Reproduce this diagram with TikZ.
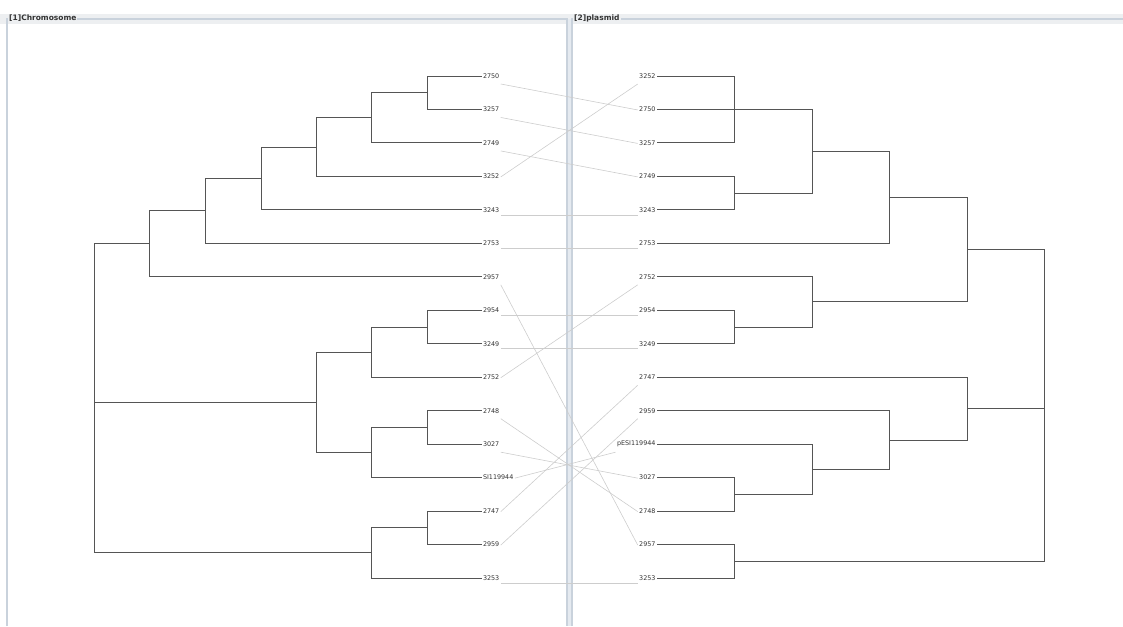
\documentclass[tikz,border=0pt]{standalone}
\usepackage{fontspec}
\setmainfont{DejaVu Sans}

\definecolor{treeline}{HTML}{555555}
\definecolor{linkline}{HTML}{CDCDCD}
\definecolor{labeltext}{HTML}{333333}
\definecolor{framecol}{HTML}{C9D2DC}
\definecolor{gapcol}{HTML}{E5EAF0}
\definecolor{headcol}{HTML}{EDEFF1}

\begin{document}
\begin{tikzpicture}[
    x=1pt, y=-1pt,
    leafl/.style={
        anchor=west,
        inner sep=0.5pt,
        outer sep=1pt,
        text=labeltext,
        font=\fontsize{6.4}{7}\selectfont
    },
    leafr/.style={leafl, anchor=east},
    treebranch/.style={draw=treeline, line width=0.9pt},
    crosslink/.style={draw=linkline, line width=0.6pt},
    panelframe/.style={draw=framecol, line width=1.2pt},
    paneltitle/.style={
        anchor=west,
        fill=headcol,
        inner sep=1pt,
        text=labeltext,
        font=\bfseries\fontsize{7.5}{8}\selectfont
    }
]
\useasboundingbox (0,0) rectangle (1123,626);

% Panels
\fill[headcol] (0,14) rectangle (1123,24);
\fill[gapcol] (567,19) rectangle (572,626);
\draw[panelframe] (7,626) -- (7,19) -- (567,19) -- (567,626);
\draw[panelframe] (572,626) -- (572,19) -- (1123,19);
\node[paneltitle] (chrom) at (8,18.5) {[1]Chromosome};
\node[paneltitle] (plas) at (573,18.5) {[2]plasmid};

% Leaves, chromosome tree
\foreach \name/\txt [count=\i from 0] in {2750/2750, 3257/3257, 2749/2749, 3252/3252, 3243/3243, 2753/2753, 2957/2957, 2954/2954, 3249/3249, 2752/2752, 2748/2748, 3027/3027, SI/SI119944, 2747/2747, 2959/2959, 3253/3253}
    \node[leafl] (c\name) at (481.5,{76+33.47*\i}) {\txt};

% Leaves, plasmid tree
\foreach \name/\txt [count=\i from 0] in {3252/3252, 2750/2750, 3257/3257, 2749/2749, 3243/3243, 2753/2753, 2752/2752, 2954/2954, 3249/3249, 2747/2747, 2959/2959, SI/pESI119944, 3027/3027, 2748/2748, 2957/2957, 3253/3253}
    \node[leafr] (p\name) at (657,{76+33.47*\i}) {\txt};

% Inner nodes, chromosome tree
\coordinate (L0) at (94,402.3);
\coordinate (L1) at (427,92.7);
\coordinate (L2) at (371,117.8);
\coordinate (L3) at (316,147.1);
\coordinate (L4) at (261,178.5);
\coordinate (L5) at (205,210.9);
\coordinate (L6) at (149,243.9);
\coordinate (L7) at (427,327.0);
\coordinate (L8) at (371,352.1);
\coordinate (L9) at (427,427.4);
\coordinate (L10) at (371,452.5);
\coordinate (L11) at (316,402.3);
\coordinate (L12) at (427,527.8);
\coordinate (L13) at (371,552.9);

% Inner nodes, plasmid tree
\coordinate (R0) at (1044,408.6);
\coordinate (R1) at (734,109.5);
\coordinate (R2) at (734,193.1);
\coordinate (R3) at (812,151.3);
\coordinate (R4) at (889,197.3);
\coordinate (R5) at (734,327.0);
\coordinate (R6) at (812,301.9);
\coordinate (R7) at (967,249.6);
\coordinate (R8) at (734,494.4);
\coordinate (R9) at (812,469.3);
\coordinate (R10) at (889,440.0);
\coordinate (R11) at (967,408.6);
\coordinate (R12) at (734,561.3);

% Branches, chromosome tree
\draw[treebranch] (L1) |- (c2750.west);
\draw[treebranch] (L1) |- (c3257.west);
\draw[treebranch] (L2) |- (L1);
\draw[treebranch] (L2) |- (c2749.west);
\draw[treebranch] (L3) |- (L2);
\draw[treebranch] (L3) |- (c3252.west);
\draw[treebranch] (L4) |- (L3);
\draw[treebranch] (L4) |- (c3243.west);
\draw[treebranch] (L5) |- (L4);
\draw[treebranch] (L5) |- (c2753.west);
\draw[treebranch] (L6) |- (L5);
\draw[treebranch] (L6) |- (c2957.west);
\draw[treebranch] (L7) |- (c2954.west);
\draw[treebranch] (L7) |- (c3249.west);
\draw[treebranch] (L8) |- (L7);
\draw[treebranch] (L8) |- (c2752.west);
\draw[treebranch] (L9) |- (c2748.west);
\draw[treebranch] (L9) |- (c3027.west);
\draw[treebranch] (L10) |- (L9);
\draw[treebranch] (L10) |- (cSI.west);
\draw[treebranch] (L11) |- (L8);
\draw[treebranch] (L11) |- (L10);
\draw[treebranch] (L12) |- (c2747.west);
\draw[treebranch] (L12) |- (c2959.west);
\draw[treebranch] (L13) |- (L12);
\draw[treebranch] (L13) |- (c3253.west);
\draw[treebranch] (L0) |- (L6);
\draw[treebranch] (L0) |- (L11);
\draw[treebranch] (L0) |- (L13);

% Branches, plasmid tree
\draw[treebranch] (R1) |- (p3252.east);
\draw[treebranch] (R1) |- (p2750.east);
\draw[treebranch] (R1) |- (p3257.east);
\draw[treebranch] (R2) |- (p2749.east);
\draw[treebranch] (R2) |- (p3243.east);
\draw[treebranch] (R3) |- (R1);
\draw[treebranch] (R3) |- (R2);
\draw[treebranch] (R4) |- (R3);
\draw[treebranch] (R4) |- (p2753.east);
\draw[treebranch] (R5) |- (p2954.east);
\draw[treebranch] (R5) |- (p3249.east);
\draw[treebranch] (R6) |- (p2752.east);
\draw[treebranch] (R6) |- (R5);
\draw[treebranch] (R7) |- (R4);
\draw[treebranch] (R7) |- (R6);
\draw[treebranch] (R8) |- (p3027.east);
\draw[treebranch] (R8) |- (p2748.east);
\draw[treebranch] (R9) |- (pSI.east);
\draw[treebranch] (R9) |- (R8);
\draw[treebranch] (R10) |- (p2959.east);
\draw[treebranch] (R10) |- (R9);
\draw[treebranch] (R11) |- (p2747.east);
\draw[treebranch] (R11) |- (R10);
\draw[treebranch] (R12) |- (p2957.east);
\draw[treebranch] (R12) |- (p3253.east);
\draw[treebranch] (R0) |- (R7);
\draw[treebranch] (R0) |- (R11);
\draw[treebranch] (R0) |- (R12);

% Links between the two trees
\foreach \n in {2750,3257,2749,2957,2748,3027}
    \draw[crosslink] ([yshift=-8pt]c\n.east) -- ([yshift=-0.5pt]p\n.west);
\foreach \n in {3252,2752,SI,2747,2959}
    \draw[crosslink] ([yshift=-0.5pt]c\n.east) -- ([yshift=-8pt]p\n.west);
\foreach \n in {3243,2753,2954,3249,3253}
    \draw[crosslink] ([yshift=-5pt]c\n.east) -- ([yshift=-5pt]p\n.west);

\end{tikzpicture}
\end{document}
